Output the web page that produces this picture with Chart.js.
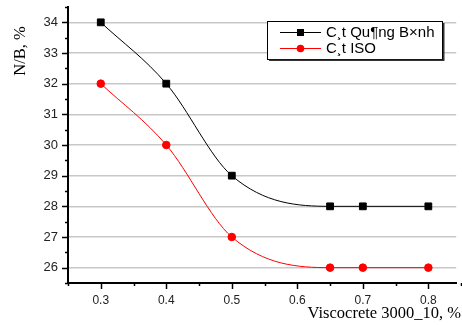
<!DOCTYPE html>
<html>
<head>
<meta charset="utf-8">
<script src="https://cdn.jsdelivr.net/npm/chart.js@4"></script>
<style>
  body { margin: 0; background: #fff; }
  #wrap { width: 462px; height: 325px; }
</style>
</head>
<body>
<div id="wrap"><canvas id="myChart"></canvas></div>
<script>
// data
const dosage = [0.3, 0.4, 0.5, 0.65, 0.7, 0.8];
const quangBinh = [34, 32, 29, 28, 28, 28];
const iso = [32, 30, 27, 26, 26, 26];
const seriesNames = ['C\u00b8t Qu\u00b6ng B\u00d7nh', 'C\u00b8t ISO'];
const xTicks = [0.3, 0.4, 0.5, 0.6, 0.7, 0.8];
const yTicks = [26, 27, 28, 29, 30, 31, 32, 33, 34];

function toPoints(ys) {
    return dosage.map((x, i) => ({ x: x, y: ys[i] }));
}

// axis ticks, titles and the boxed legend
const decor = {
    id: 'decor',
    afterDraw(chart) {
        const c = chart.ctx;
        const xs = chart.scales.x, ys = chart.scales.y;
        const area = chart.chartArea;
        c.save();
        c.strokeStyle = '#000';
        c.lineWidth = 1.5;
        // y ticks (major + minor), pointing left
        for (let v = 25.5; v <= 34.5; v += 0.5) {
            const py = Math.round(ys.getPixelForValue(v)) + 0.5;
            const len = (v % 1 === 0) ? 6 : 3;
            c.beginPath();
            c.moveTo(area.left - len, py);
            c.lineTo(area.left, py);
            c.stroke();
        }
        // x ticks, pointing down
        for (let v = 0.25; v <= 0.851; v += 0.05) {
            const px = Math.round(xs.getPixelForValue(v)) + 0.5;
            const major = Math.abs(v * 10 - Math.round(v * 10)) < 0.01;
            const len = major ? 6 : 3;
            c.beginPath();
            c.moveTo(px, area.bottom);
            c.lineTo(px, area.bottom + len);
            c.stroke();
        }
        // axis titles
        c.fillStyle = '#000';
        c.font = '16.5px "Liberation Serif", "Times New Roman", serif';
        c.textAlign = 'right';
        c.textBaseline = 'alphabetic';
        c.fillText('Viscocrete 3000_10, %', 461, 318);
        c.save();
        c.translate(25, 51);
        c.rotate(-Math.PI / 2);
        c.textAlign = 'center';
        c.fillText('N/B, %', 0, 0);
        c.restore();

        // legend box
        c.fillStyle = '#fff';
        c.fillRect(267.5, 21.5, 175, 38);
        c.lineWidth = 1;
        c.strokeStyle = '#000';
        c.strokeRect(267.5, 21.5, 175, 38);
        c.fillStyle = '#333';
        c.fillRect(443, 23, 1.5, 38);
        c.fillRect(269, 59.5, 175, 1.5);
        const rows = [
            { name: seriesNames[0], color: '#000', square: true, y: 32 },
            { name: seriesNames[1], color: '#ff0000', square: false, y: 48 }
        ];
        c.font = '15px "Liberation Sans", Arial, sans-serif';
        c.textAlign = 'left';
        c.textBaseline = 'middle';
        rows.forEach(r => {
            c.strokeStyle = r.color;
            c.lineWidth = 1;
            c.beginPath();
            c.moveTo(280, r.y + 0.5);
            c.lineTo(321, r.y + 0.5);
            c.stroke();
            c.fillStyle = r.color;
            if (r.square) {
                c.fillRect(297, r.y - 3, 7, 7);
            } else {
                c.beginPath();
                c.arc(300.5, r.y + 0.5, 3.8, 0, Math.PI * 2);
                c.fill();
            }
            c.fillStyle = '#000';
            c.fillText(r.name, 326, r.y + 1);
        });
        c.restore();
    }
};

const ctx = document.querySelector('#myChart').getContext('2d');
const myChart = new Chart(ctx, {
    type: 'scatter',
    data: {
        datasets: [{
            label: seriesNames[0],
            data: toPoints(quangBinh),
            showLine: true,
            borderColor: '#000',
            backgroundColor: '#000',
            borderWidth: 1,
            pointStyle: 'rect',
            pointRadius: 4.8,
            cubicInterpolationMode: 'monotone'
        }, {
            label: seriesNames[1],
            data: toPoints(iso),
            showLine: true,
            borderColor: '#ff0000',
            backgroundColor: '#ff0000',
            borderWidth: 1,
            pointStyle: 'circle',
            pointRadius: 3.8,
            cubicInterpolationMode: 'monotone'
        }]
    },
    options: {
        responsive: true,
        maintainAspectRatio: false,
        animation: false,
        layout: { padding: { top: 7, right: 0, left: 0, bottom: 0 } },
        plugins: {
            legend: { display: false },
            tooltip: { enabled: false }
        },
        scales: {
            x: {
                type: 'linear',
                min: 0.25,
                max: 0.8425,
                afterBuildTicks: s => { s.ticks = xTicks.map(v => ({ value: v })); },
                afterFit: s => { s.height = 42; s.paddingLeft = 0; s.paddingRight = 0; },
                grid: { display: false, drawTicks: false },
                border: { color: '#000', width: 2 },
                ticks: {
                    padding: 10,
                    color: '#222',
                    font: { family: '"Liberation Sans", Arial, sans-serif', size: 12 },
                    callback: v => v.toFixed(1)
                }
            },
            y: {
                min: 25.5,
                max: 34.5,
                afterBuildTicks: s => { s.ticks = yTicks.map(v => ({ value: v })); },
                afterFit: s => { s.width = 68; s.paddingTop = 0; s.paddingBottom = 0; },
                grid: { color: '#c8c8c8', lineWidth: 1.5, drawTicks: false },
                border: { color: '#000', width: 2 },
                ticks: {
                    padding: 10,
                    color: '#222',
                    font: { family: '"Liberation Sans", Arial, sans-serif', size: 13 }
                }
            }
        }
    },
    plugins: [decor]
});
</script>
</body>
</html>
